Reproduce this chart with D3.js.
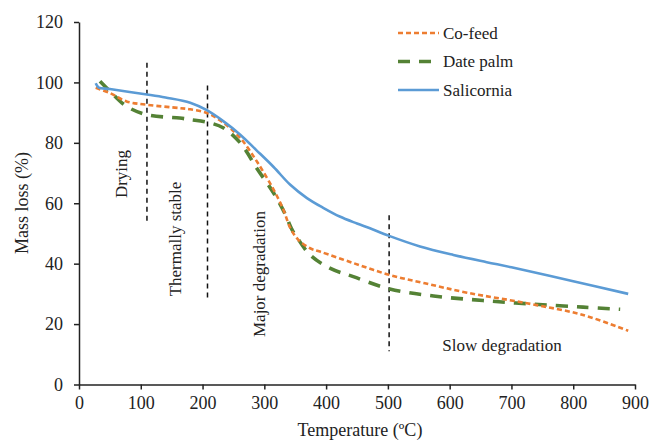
<!DOCTYPE html>
<html><head><meta charset="utf-8">
<script src="https://cdn.jsdelivr.net/npm/d3@7"></script>
<style>body{margin:0;background:#fff}svg{display:block}</style>
</head><body>
<svg id="c" width="649" height="442"></svg>
<script>
const xTicks = [0,100,200,300,400,500,600,700,800,900];
const yTicks = [0,20,40,60,80,100,120];
const seriesNames = ["Co-feed","Date palm","Salicornia"];
const cofeedT = [27,50,77,110,163,180,207,234,261,288,315,331,342,355,374,390,444,502,560,628,725,816,889];
const cofeedV = [98.2,96.5,93.7,92.6,91.5,91.1,89.9,86.6,81.6,73.8,64.5,57.8,51.8,47.9,45.1,44.0,40.2,36.3,33.5,30.4,26.9,23.0,17.8];
const datepalmT = [34,50,77,110,163,180,208,234,261,288,315,333,345,352,374,406,444,503,574,654,735,816,876];
const datepalmV = [100.4,97.1,92.1,89.3,88.2,87.7,86.8,84.9,80.0,71.5,63.4,56.7,51.2,49.0,42.9,38.5,35.7,31.6,29.3,27.8,26.6,25.6,24.9];
const saliT = [27,32,50,110,140,180,207,234,261,287,315,342,369,396,422,450,471,502,552,606,660,700,800,889];
const saliV = [99.7,98.3,97.8,96.0,95.0,93.3,90.8,87.1,82.7,77.6,72.0,66.1,61.7,58.4,55.6,53.3,51.7,49.2,45.7,42.9,40.5,38.8,34.2,30.0];
const phaseLineT = [110,208,502];
const phaseLineTop = [106.5,99,56];
const phaseLineBottom = [53,28,11];
const phaseLabels = ["Drying","Thermally stable","Major degradation","Slow degradation"];

const svg = d3.select("#c");
const font = "'Liberation Serif','Times New Roman',serif";
const x = d3.scaleLinear().domain([0,900]).range([79,635]);
const y = d3.scaleLinear().domain([0,120]).range([384.5,22]);

// axes
const xa = svg.append("g").attr("transform",`translate(0,${y(0)})`)
  .call(d3.axisBottom(x).tickValues(xTicks).tickSize(5).tickPadding(7).tickSizeOuter(0));
const ya = svg.append("g").attr("transform",`translate(${x(0)},0)`)
  .call(d3.axisLeft(y).tickValues(yTicks).tickSize(5).tickPadding(11).tickSizeOuter(0));
[xa,ya].forEach(a=>{
  a.selectAll("path,line").attr("stroke","#222").attr("stroke-width",1.5);
  a.selectAll("text").attr("font-family",font).attr("font-size",18).attr("fill","#222");
});

// phase lines
phaseLineT.forEach((t,i)=>{
  svg.append("line").attr("x1",x(t)).attr("x2",x(t))
    .attr("y1",y(phaseLineTop[i])).attr("y2",y(phaseLineBottom[i]))
    .attr("stroke","#111").attr("stroke-width",1.5).attr("stroke-dasharray","5,4");
});

// series
const mk = (T,V)=>T.map((t,i)=>[t,V[i]]);
const line = d3.line().x(d=>x(d[0])).y(d=>y(d[1])).curve(d3.curveCatmullRom.alpha(0.5));
const series = [
  {name:seriesNames[0], data:mk(cofeedT,cofeedV), color:"#ED7D31", w:2.6, dash:"5,3"},
  {name:seriesNames[1], data:mk(datepalmT,datepalmV), color:"#548235", w:3.6, dash:"12,9"},
  {name:seriesNames[2], data:mk(saliT,saliV), color:"#5B9BD5", w:2.6, dash:null}
];
[series[1],series[0],series[2]].forEach(s=>{
  svg.append("path").attr("d",line(s.data)).attr("fill","none")
    .attr("stroke",s.color).attr("stroke-width",s.w)
    .attr("stroke-dasharray",s.dash);
});

// legend
series.forEach((s,i)=>{
  const ly = 33 + i*28.5;
  svg.append("line").attr("x1",398).attr("x2",439).attr("y1",ly).attr("y2",ly)
    .attr("stroke",s.color).attr("stroke-width",s.w).attr("stroke-dasharray",s.dash);
  svg.append("text").attr("x",443).attr("y",ly).attr("dy","0.35em")
    .attr("font-family",font).attr("font-size",17).attr("fill","#222").text(s.name);
});

// phase labels
const rot = (txt,cx,cy)=>svg.append("text").attr("transform",`translate(${cx},${cy}) rotate(-90)`)
  .attr("text-anchor","middle").attr("dy","0.35em").attr("font-family",font)
  .attr("font-size",17).attr("fill","#222").text(txt);
rot(phaseLabels[0],121,174);
rot(phaseLabels[1],175,239);
rot(phaseLabels[2],259,274);
svg.append("text").attr("x",502).attr("y",351).attr("text-anchor","middle")
  .attr("font-family",font).attr("font-size",17).attr("fill","#222").text(phaseLabels[3]);

// axis titles
svg.append("text").attr("transform",`translate(22,203) rotate(-90)`).attr("text-anchor","middle")
  .attr("dy","0.35em").attr("font-family",font).attr("font-size",18).attr("fill","#222").text("Mass loss (%)");
svg.append("text").attr("x",360).attr("y",436).attr("text-anchor","middle")
  .attr("font-family",font).attr("font-size",18).attr("fill","#222").text("Temperature (ºC)");
</script>
</body></html>
